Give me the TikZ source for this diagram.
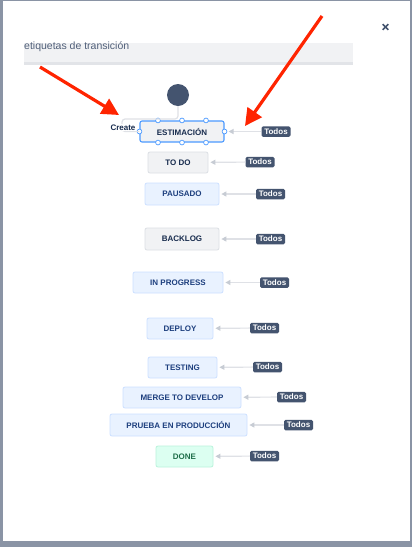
\documentclass[tikz,border=0pt]{standalone}
\usepackage{fontspec}
\setmainfont{Liberation Sans}
\usetikzlibrary{arrows.meta,positioning}

\definecolor{slate}{HTML}{44546F}
\definecolor{framegray}{HTML}{8A94A5}
\definecolor{bargray}{HTML}{F1F2F4}
\definecolor{barline}{HTML}{E2E4E8}
\definecolor{hintgray}{HTML}{505F79}
\definecolor{boxgray}{HTML}{F1F2F4}
\definecolor{edgegray}{HTML}{DCDFE4}
\definecolor{inkgray}{HTML}{172B4D}
\definecolor{boxblue}{HTML}{E9F2FF}
\definecolor{edgeblue}{HTML}{CCE0FF}
\definecolor{inkblue}{HTML}{1D3F7E}
\definecolor{boxgreen}{HTML}{DCFFF1}
\definecolor{edgegreen}{HTML}{BAF3DB}
\definecolor{inkgreen}{HTML}{1F6F4A}
\definecolor{selblue}{HTML}{4C9AFF}
\definecolor{wire}{HTML}{DFE1E6}
\definecolor{wiretip}{HTML}{C7CCD4}
\definecolor{markred}{HTML}{FF2400}

\begin{document}
\begin{tikzpicture}[x=1pt,y=-1pt,
  status/.style={draw, rounded corners=2pt, line width=0.8pt, inner sep=0pt,
    minimum height=21pt, font=\fontsize{8}{9}\selectfont\bfseries},
  graystatus/.style={status, fill=boxgray, draw=edgegray, text=inkgray},
  bluestatus/.style={status, fill=boxblue, draw=edgeblue, text=inkblue},
  greenstatus/.style={status, fill=boxgreen, draw=edgegreen, text=inkgreen},
  alltag/.style={fill=slate, text=white, rounded corners=1.5pt, inner sep=0pt,
    minimum width=29pt, minimum height=10.5pt, font=\fontsize{8}{9}\selectfont\bfseries},
  anyedge/.style={draw=wire, line width=1.2pt,
    -{Triangle[length=5pt,width=5pt,color=wiretip]}, shorten >=2pt},
  handle/.style={fill=white, draw=selblue, line width=0.7pt},
  redmark/.style={markred, line width=3.2pt, -{Triangle[length=17pt,width=17pt]}}]
  \useasboundingbox (0,0) rectangle (412,547);

  % Dialog frame
  \fill[framegray] (0,0) rectangle (412,547);
  \fill[white] (2.5,1) rectangle (410,541);

  % Close cross
  \draw[slate, line width=1.6pt] (382.7,24.2) -- (388.3,29.8);
  \draw[slate, line width=1.6pt] (382.7,29.8) -- (388.3,24.2);

  % Filter bar
  \fill[bargray] (24,43) rectangle (353,62);
  \fill[barline] (24,62) rectangle (353,64.5);
  \node[anchor=base west, inner sep=0pt, text=hintgray,
    font=\fontsize{10.5}{12}\selectfont] (filter) at (24,49.5) {etiquetas de transición};

  % Initial state
  \node[circle, fill=slate, minimum size=22pt, inner sep=0pt] (start) at (178,95) {};

  % Statuses
  \node[graystatus, draw=selblue, line width=1.1pt, minimum width=84pt] (estimacion) at (182,131.5) {ESTIMACIÓN};
  \node[graystatus, minimum width=60pt] (todo) at (178,162.5) {TO DO};
  \node[bluestatus, minimum width=74pt, minimum height=22pt] (pausado) at (182,194) {PAUSADO};
  \node[graystatus, minimum width=74pt, minimum height=22pt] (backlog) at (182,239) {BACKLOG};
  \node[bluestatus, minimum width=90pt] (inprogress) at (178,282.5) {IN PROGRESS};
  \node[bluestatus, minimum width=66pt] (deploy) at (180,328.5) {DEPLOY};
  \node[bluestatus, minimum width=69pt] (testing) at (182.5,367.5) {TESTING};
  \node[bluestatus, minimum width=118pt] (merge) at (182,397.5) {MERGE TO DEVELOP};
  \node[bluestatus, minimum width=137pt, minimum height=22pt] (prueba) at (178.5,425) {PRUEBA EN PRODUCCIÓN};
  \node[greenstatus, minimum width=57pt] (done) at (184.5,456.5) {DONE};

  % Selection handles
  \foreach \dx in {-24,0,24} {
    \filldraw[handle] ([xshift=\dx]estimacion.north) circle (2.4);
    \filldraw[handle] ([xshift=\dx]estimacion.south) circle (2.4);
  }
  \filldraw[handle] (estimacion.west) circle (2.4);
  \filldraw[handle] (estimacion.east) circle (2.4);

  % Create transition
  \draw[wire, line width=1.2pt, rounded corners=3pt] (start.south) |- (122,119) |- (estimacion.west);
  \node[fill=white, inner sep=0.5pt, text=inkgray,
    font=\fontsize{8}{9}\selectfont\bfseries] (create) at (123,127.5) {Create};

  % Global transitions
  \node[alltag] (all1) at (276,131.5) {Todos};
  \node[alltag] (all2) at (260,162) {Todos};
  \node[alltag] (all3) at (270.5,194) {Todos};
  \node[alltag] (all4) at (270.5,239) {Todos};
  \node[alltag] (all5) at (274.5,282.5) {Todos};
  \node[alltag] (all6) at (264.5,328) {Todos};
  \node[alltag] (all7) at (267.5,367) {Todos};
  \node[alltag] (all8) at (291.5,397) {Todos};
  \node[alltag] (all9) at (298.5,425) {Todos};
  \node[alltag] (all10) at (264.5,456) {Todos};

  \draw[anyedge, shorten >=4pt] (all1) -- (estimacion);
  \draw[anyedge] (all2) -- (todo);
  \draw[anyedge] (all3) -- (pausado);
  \draw[anyedge] (all4) -- (backlog);
  \draw[anyedge] (all5) -- (inprogress);
  \draw[anyedge] (all6) -- (deploy);
  \draw[anyedge] (all7) -- (testing);
  \draw[anyedge] (all8) -- (merge);
  \draw[anyedge] (all9) -- (prueba);
  \draw[anyedge] (all10) -- (done);

  % Red pointers
  \coordinate (tailleft) at (40,67);
  \coordinate (tipleft) at (119,115);
  \coordinate (tailright) at (322,16);
  \coordinate (tipright) at (245,126);
  \draw[redmark] (tailleft) -- (tipleft);
  \draw[redmark] (tailright) -- (tipright);
\end{tikzpicture}
\end{document}
